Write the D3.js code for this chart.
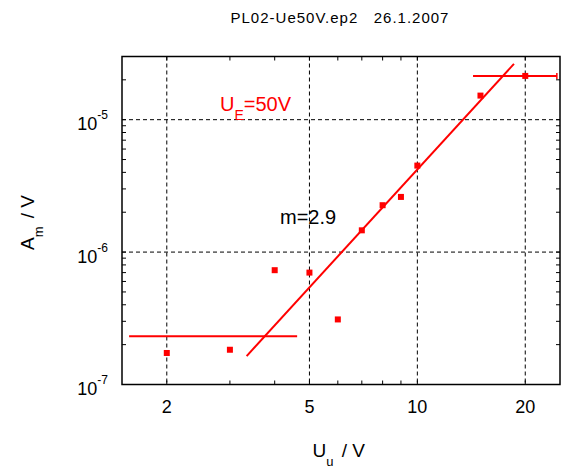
<!DOCTYPE html>
<html>
<head>
<meta charset="utf-8">
<script src="https://cdn.jsdelivr.net/npm/d3@7"></script>
<style>
  body { margin: 0; background: #fff; }
  text { font-family: Arial, "Liberation Sans", sans-serif; }
</style>
</head>
<body>
<div id="chart"></div>
<script>
// measured points (U_u in V, A_m in V)
var uu = [2, 3, 4, 5, 6, 7, 8, 9, 10, 15, 20];
var am = [1.73e-7, 1.83e-7, 7.3e-7, 7.0e-7, 3.1e-7, 1.46e-6, 2.26e-6, 2.61e-6, 4.5e-6, 1.52e-5, 2.14e-5];

// fitted lines
var fitLine  = [[3.34, 1.64e-7], [18.6, 2.64e-5]];
var lowLine  = [[1.57, 2.31e-7], [4.62, 2.31e-7]];
var highLine = [[14.3, 2.14e-5], [24.5, 2.14e-5]];

var xTickVals = [2, 5, 10, 20];
var yTickVals = [1e-7, 1e-6, 1e-5];
var xMinor = [2, 3, 4, 5, 6, 7, 8, 9, 10, 20];
var yMinor = [2e-7, 3e-7, 4e-7, 5e-7, 6e-7, 7e-7, 8e-7, 9e-7, 1e-6,
              2e-6, 3e-6, 4e-6, 5e-6, 6e-6, 7e-6, 8e-6, 9e-6, 1e-5, 2e-5];

var W = 563, H = 473;
var margin = {top: 56.5, right: 3, bottom: 88.5, left: 122};
var width = W - margin.left - margin.right,
    height = H - margin.top - margin.bottom;

var svg = d3.select("#chart").append("svg")
    .attr("width", W)
    .attr("height", H);

var g = svg.append("g")
    .attr("transform", "translate(" + margin.left + "," + margin.top + ")");

var x = d3.scaleLog().domain([1.5, 25]).range([0, width]);
var y = d3.scaleLog().domain([1e-7, 3e-5]).range([height, 0]);

// grid
g.selectAll(".vgrid").data(xTickVals).enter().append("line")
    .attr("x1", function(d) { return x(d); })
    .attr("x2", function(d) { return x(d); })
    .attr("y1", 0).attr("y2", height)
    .attr("stroke", "#000").attr("stroke-width", 1)
    .style("stroke-dasharray", "4,3");
g.selectAll(".hgrid").data([1e-6, 1e-5]).enter().append("line")
    .attr("x1", 0).attr("x2", width)
    .attr("y1", function(d) { return y(d); })
    .attr("y2", function(d) { return y(d); })
    .attr("stroke", "#000").attr("stroke-width", 1)
    .style("stroke-dasharray", "4,3");

// inward ticks on all four sides
var tl = 4;
g.selectAll(".tb").data(xMinor).enter().append("line")
    .attr("x1", function(d) { return x(d); }).attr("x2", function(d) { return x(d); })
    .attr("y1", height).attr("y2", height - tl)
    .attr("stroke", "#000");
g.selectAll(".tt").data(xMinor).enter().append("line")
    .attr("x1", function(d) { return x(d); }).attr("x2", function(d) { return x(d); })
    .attr("y1", 0).attr("y2", tl)
    .attr("stroke", "#000");
g.selectAll(".tl").data(yMinor).enter().append("line")
    .attr("y1", function(d) { return y(d); }).attr("y2", function(d) { return y(d); })
    .attr("x1", 0).attr("x2", tl)
    .attr("stroke", "#000");
g.selectAll(".tr").data(yMinor).enter().append("line")
    .attr("y1", function(d) { return y(d); }).attr("y2", function(d) { return y(d); })
    .attr("x1", width).attr("x2", width - tl)
    .attr("stroke", "#000");

// tick labels
g.selectAll(".xl").data(xTickVals).enter().append("text")
    .attr("x", function(d) { return x(d); })
    .attr("y", height + 28)
    .attr("text-anchor", "middle")
    .style("font-size", "18px")
    .text(function(d) { return d; });

var yl = g.selectAll(".yl").data(yTickVals).enter().append("text")
    .attr("x", -14)
    .attr("y", function(d) { return y(d) + 10.5; })
    .attr("text-anchor", "end")
    .style("font-size", "18px");
yl.append("tspan").text("10");
yl.append("tspan")
    .attr("dy", -11)
    .style("font-size", "12px")
    .text(function(d) { return Math.round(Math.log10(d)); });

// lines
var line = d3.line()
    .x(function(d) { return x(d[0]); })
    .y(function(d) { return y(d[1]); });

[fitLine, lowLine, highLine].forEach(function(l) {
    g.append("path")
        .attr("d", line(l))
        .attr("fill", "none")
        .attr("stroke", "#ff0000")
        .attr("stroke-width", 2);
});
// small cap at the end of the upper line
g.append("line")
    .attr("x1", x(highLine[1][0])).attr("x2", x(highLine[1][0]))
    .attr("y1", y(highLine[1][1]) - 3).attr("y2", y(highLine[1][1]) + 3)
    .attr("stroke", "#ff0000").attr("stroke-width", 1.5);

// points
g.selectAll(".pt").data(uu).enter().append("rect")
    .attr("x", function(d) { return x(d) - 3; })
    .attr("y", function(d, i) { return y(am[i]) - 3; })
    .attr("width", 6).attr("height", 6)
    .attr("fill", "#ff0000");

// frame
g.append("rect")
    .attr("width", width).attr("height", height)
    .attr("fill", "none")
    .attr("stroke", "#000").attr("stroke-width", 1.5);

// annotations
var ue = svg.append("text")
    .attr("x", 220).attr("y", 110.5)
    .attr("fill", "#ff0000")
    .style("font-size", "20px");
ue.append("tspan").text("U");
ue.append("tspan").attr("dy", 9).style("font-size", "14px").text("E");
ue.append("tspan").attr("dy", -9).text("=50V");

svg.append("text")
    .attr("x", 280).attr("y", 224)
    .style("font-size", "20px")
    .text("m=2.9");

// title
svg.append("text")
    .attr("x", 340).attr("y", 22.5)
    .attr("text-anchor", "middle")
    .style("font-size", "15px")
    .style("letter-spacing", "1px")
    .attr("xml:space", "preserve")
    .text("PL02-Ue50V.ep2   26.1.2007");

// axis titles
var xt = svg.append("text")
    .attr("x", 312.5).attr("y", 456.5)
    .style("font-size", "19px")
    .attr("xml:space", "preserve");
xt.append("tspan").text("U");
xt.append("tspan").attr("dy", 9).style("font-size", "13px").text("u");
xt.append("tspan").attr("dy", -9).attr("dx", 3).text(" / V");

var ytitle = svg.append("text")
    .attr("transform", "translate(33.5,250) rotate(-90)")
    .style("font-size", "19px")
    .attr("xml:space", "preserve");
ytitle.append("tspan").text("A");
ytitle.append("tspan").attr("dy", 9).style("font-size", "13px").text("m");
ytitle.append("tspan").attr("dy", -9).attr("dx", 3).text(" / V");
</script>
</body>
</html>
